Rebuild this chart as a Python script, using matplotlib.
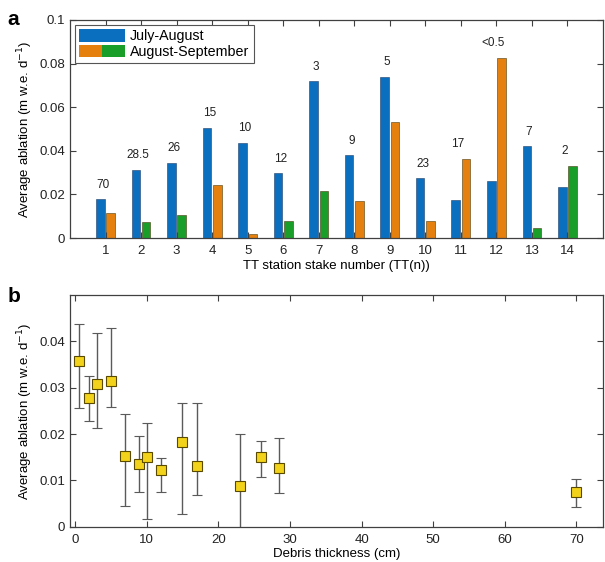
import matplotlib
matplotlib.use('Agg')
import matplotlib.pyplot as plt
import numpy as np
from matplotlib.patches import Patch
from matplotlib.legend_handler import HandlerTuple

plt.rcParams['font.family'] = ['Liberation Sans', 'DejaVu Sans']

# panel a - ablation per stake
stations = np.arange(1, 15)
jul_aug = [0.0177, 0.0313, 0.0345, 0.0504, 0.0435, 0.0296, 0.0718,
           0.0379, 0.0740, 0.0273, 0.0173, 0.0261, 0.0420, 0.0232]
aug_sep = [0.0115, 0.0073, 0.0107, 0.0241, 0.0017, 0.0078, 0.0217,
           0.0171, 0.0531, 0.0078, 0.0363, 0.0826, 0.0044, 0.0330]
aug_sep_green = [False, True, True, False, False, True, True,
                 False, False, False, False, False, True, True]
debris_labels = ['70', '28.5', '26', '15', '10', '12', '3', '9', '5',
                 '23', '17', '<0.5', '7', '2']

# panel b - ablation vs debris thickness
debris = [0.5, 2, 3, 5, 7, 9, 10, 12, 15, 17, 23, 26, 28.5, 70]
ablation = [0.0358, 0.0277, 0.0307, 0.0315, 0.0153, 0.0136, 0.0150,
            0.0122, 0.0183, 0.0132, 0.0087, 0.0150, 0.0127, 0.0074]
ablation_low = [0.0257, 0.0229, 0.0214, 0.0259, 0.0044, 0.0074, 0.0016,
                0.0074, 0.0027, 0.0069, -0.0027, 0.0107, 0.0072, 0.0042]
ablation_high = [0.0437, 0.0326, 0.0418, 0.0428, 0.0243, 0.0196, 0.0224,
                 0.0148, 0.0267, 0.0267, 0.0201, 0.0186, 0.0191, 0.0104]

blue = '#0b6fc0'
orange = '#e5800f'
green = '#1a9e2a'
axcol = '#404040'

fig = plt.figure(figsize=(6.05, 5.62), dpi=100)
ax1 = fig.add_axes([0.1157, 0.5765, 0.881, 0.388])
ax2 = fig.add_axes([0.1157, 0.0628, 0.881, 0.4123])


def style_axes(ax):
    for s in ax.spines.values():
        s.set_color(axcol)
        s.set_linewidth(0.9)
    ax.tick_params(direction='in', top=True, right=True, length=4,
                   color=axcol, labelsize=9.5, labelcolor='#222222', width=0.8)
    ax.tick_params(axis='x', pad=5)


off = 0.145
w = 0.24
sep_colors = [green if g else orange for g in aug_sep_green]
ax1.bar(stations - off, jul_aug, width=w, color=blue, edgecolor='#1f3f66', linewidth=0.4)
ax1.bar(stations + off, aug_sep, width=w, color=sep_colors, edgecolor='#4a3a10', linewidth=0.4)
for x, a, b, lab in zip(stations, jul_aug, aug_sep, debris_labels):
    ax1.text(x - 0.08, max(a, b) + 0.0068, lab, ha='center', va='center',
             fontsize=8.5, color='#222222')

ax1.set_xlim(0, 15)
ax1.set_ylim(0, 0.1)
ax1.set_xticks(stations)
ax1.set_yticks([0, 0.02, 0.04, 0.06, 0.08, 0.1])
ax1.set_yticklabels(['0', '0.02', '0.04', '0.06', '0.08', '0.1'])
ax1.set_xlabel('TT station stake number (TT(n))', fontsize=9.5, labelpad=2)
ax1.set_ylabel('Average ablation (m w.e. d$^{-1}$)', fontsize=9.5, labelpad=3)
style_axes(ax1)

handles = [Patch(facecolor=blue), (Patch(facecolor=orange), Patch(facecolor=green))]
leg = ax1.legend(handles, ['July-August', 'August-September'], loc='upper left',
                 handler_map={tuple: HandlerTuple(ndivide=None, pad=0)},
                 fontsize=10.3, handlelength=3.2, handleheight=0.95,
                 borderaxespad=0.35, fancybox=False, framealpha=1,
                 labelspacing=0.12, handletextpad=0.35, borderpad=0.3)
leg.get_frame().set_edgecolor('#555555')
leg.get_frame().set_linewidth(0.8)

err = [np.array(ablation) - np.array(ablation_low),
       np.array(ablation_high) - np.array(ablation)]
ax2.errorbar(debris, ablation, yerr=err, fmt='s', color='#555555', ecolor='#5a5a5a',
             elinewidth=1, capsize=3.8, capthick=1, markersize=7,
             markerfacecolor='#f2d21a', markeredgecolor='#5a4a00', markeredgewidth=0.8)
ax2.set_xlim(-0.7, 73.7)
ax2.set_ylim(0, 0.05)
ax2.set_xticks(np.arange(0, 80, 10))
ax2.set_yticks([0, 0.01, 0.02, 0.03, 0.04])
ax2.set_yticklabels(['0', '0.01', '0.02', '0.03', '0.04'])
ax2.set_xlabel('Debris thickness (cm)', fontsize=9.5, labelpad=2)
ax2.set_ylabel('Average ablation (m w.e. d$^{-1}$)', fontsize=9.5, labelpad=3)
style_axes(ax2)

fig.text(0.012, 0.966, 'a', fontsize=15, fontweight='bold', va='center')
fig.text(0.012, 0.473, 'b', fontsize=15, fontweight='bold', va='center')

fig.savefig('out.png', dpi=100)
